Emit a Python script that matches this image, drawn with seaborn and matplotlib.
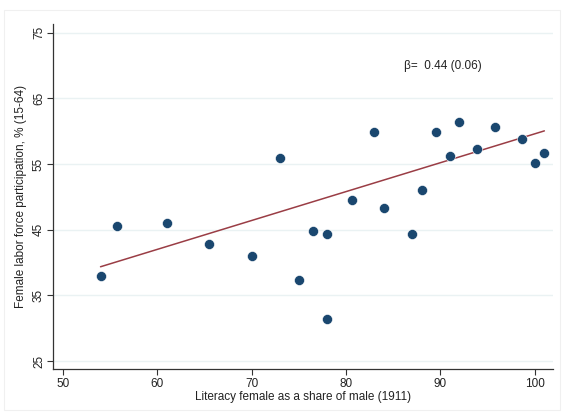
import matplotlib
matplotlib.use("Agg")
import matplotlib.pyplot as plt
import seaborn as sns
import numpy as np
import pandas as pd

# Literacy of women relative to men (1911) and female labour force participation
literacy_ratio = [54.0, 55.7, 61.0, 65.5, 70.0, 73.0, 75.0, 76.5, 78.0, 78.0,
                  80.6, 83.0, 84.0, 87.0, 88.0, 89.5, 91.0, 92.0, 93.9, 95.8,
                  98.6, 100.0, 101.0]
female_lfp = [37.9, 45.5, 46.0, 42.8, 41.0, 55.9, 37.3, 44.8, 44.3, 31.4,
              49.5, 59.9, 48.3, 44.3, 51.1, 59.9, 56.2, 61.4, 57.3, 60.6,
              58.8, 55.2, 56.7]

# Fitted line: slope from the reported coefficient, level at the lowest literacy
beta = 0.44
beta_se = 0.06
fit_at_min = 39.35

x_ticks = [50, 60, 70, 80, 90, 100]
y_ticks = [25, 35, 45, 55, 65, 75]
beta_label = f"β=  {beta:.2f} ({beta_se:.2f})"

df = pd.DataFrame({"literacy": literacy_ratio, "lfp": female_lfp})
x_lo, x_hi = min(literacy_ratio), max(literacy_ratio)
fit = pd.DataFrame({"literacy": [x_lo, x_hi]})
fit["lfp"] = fit_at_min + beta * (fit["literacy"] - x_lo)

sns.set_style("white")
plt.rcParams["font.family"] = ["Liberation Sans", "DejaVu Sans"]

fig = plt.figure(figsize=(5.63, 4.12), dpi=100)
ax = fig.add_axes([0.0947, 0.1036, 0.8873, 0.8374])

navy = "#1a476f"
maroon = "#9a3d45"

sns.lineplot(data=fit, x="literacy", y="lfp", ax=ax, color=maroon, lw=1.1,
             zorder=2)
sns.scatterplot(data=df, x="literacy", y="lfp", ax=ax, s=52, color=navy,
                edgecolor="white", linewidth=0.4, alpha=1, zorder=3)

ax.set_xlim(49.0, 101.9)
ax.set_ylim(23.74, 76.25)
ax.set_xticks(x_ticks)
ax.set_yticks(y_ticks)
ax.set_yticklabels([str(t) for t in y_ticks], rotation=90, va="center")

for t in y_ticks:
    ax.axhline(t, color="#eaf2f3", lw=1.0, zorder=0)

for side in ["top", "right"]:
    ax.spines[side].set_visible(False)
for side in ["left", "bottom"]:
    ax.spines[side].set_color("#333333")
    ax.spines[side].set_linewidth(0.9)

ax.tick_params(axis="both", direction="out", length=4, width=0.8,
               color="#333333", labelsize=8.5, labelcolor="#222222",
               left=True, bottom=True, pad=2)

ax.set_xlabel("Literacy female as a share of male (1911)", fontsize=8.5,
              color="#222222", labelpad=1)
ax.set_ylabel("Female labor force participation, % (15-64)", fontsize=8.5,
              color="#222222", labelpad=4)

ax.text(86.1, 69.9, beta_label, fontsize=8.5, color="#222222",
        ha="left", va="center")

# faint frame around the whole graph region
fig.patches.append(plt.Rectangle((0.007, 0.004), 0.988, 0.972,
                                 transform=fig.transFigure, fill=False,
                                 edgecolor="#f0f0f0", lw=0.8))

fig.savefig("out.png", dpi=100, facecolor="white")
